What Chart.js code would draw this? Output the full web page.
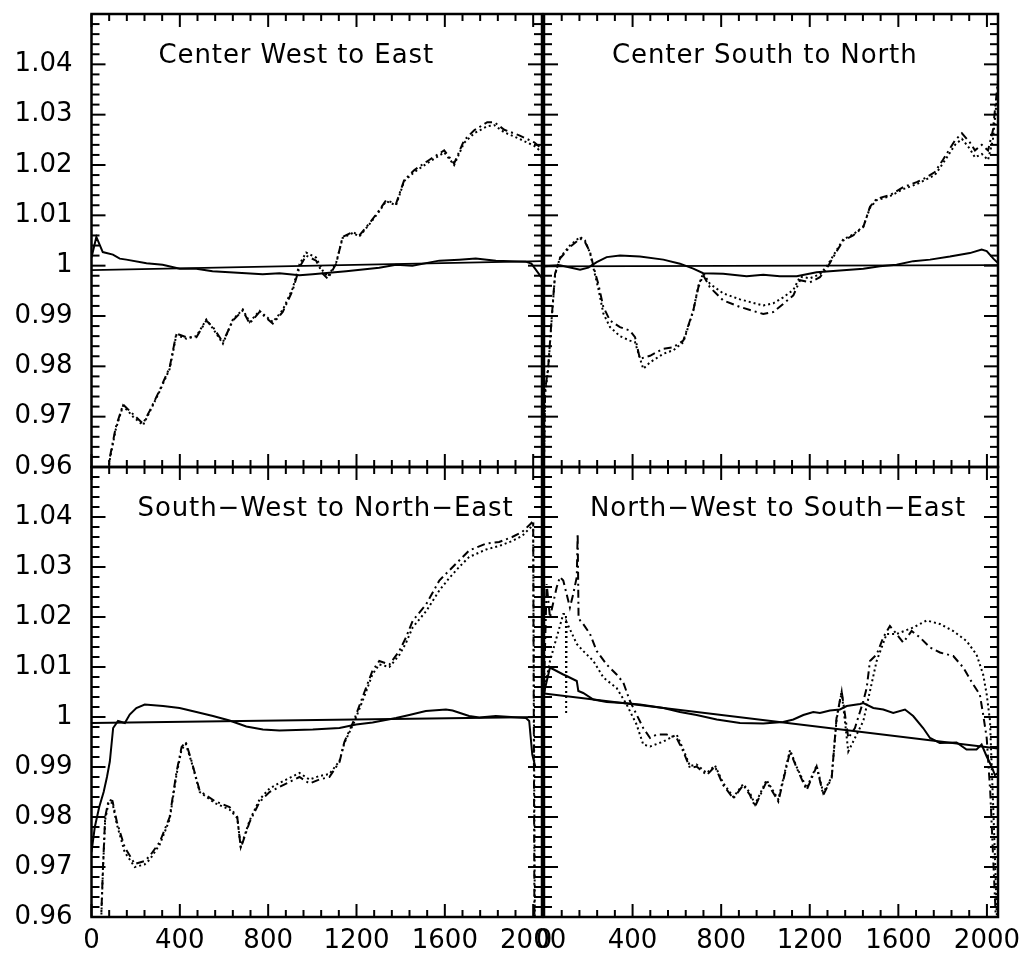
<!DOCTYPE html>
<html>
<head>
<meta charset="utf-8">
<script src="https://cdn.jsdelivr.net/npm/chart.js@4"></script>
<style>
  body { margin: 0; background: #fff; }
  #wrap { position: relative; width: 1023px; height: 957px; }
  canvas { position: absolute; left: 0; top: 0; }
</style>
</head>
<body>
<div id="wrap">
  <canvas id="cwe" width="1023" height="957"></canvas>
  <canvas id="csn" width="1023" height="957"></canvas>
  <canvas id="swne" width="1023" height="957"></canvas>
  <canvas id="nwse" width="1023" height="957"></canvas>
</div>
<script>
// Axis ticks
const xMajor = [0, 400, 800, 1200, 1600, 2000];
const xTickLabels = ['0', '400', '800', '1200', '1600', '2000'];
const xMinor = [80, 160, 240, 320, 480, 560, 640, 720, 880, 960, 1040, 1120, 1280, 1360, 1440, 1520, 1680, 1760, 1840, 1920];
const yMajor = [0.96, 0.97, 0.98, 0.99, 1.00, 1.01, 1.02, 1.03, 1.04];
const yTickLabels = ['0.96', '0.97', '0.98', '0.99', '1', '1.01', '1.02', '1.03', '1.04'];
const yMinor = [0.962, 0.964, 0.966, 0.968, 0.972, 0.974, 0.976, 0.978, 0.982, 0.984, 0.986, 0.988,
                0.992, 0.994, 0.996, 0.998, 1.002, 1.004, 1.006, 1.008, 1.012, 1.014, 1.016, 1.018,
                1.022, 1.024, 1.026, 1.028, 1.032, 1.034, 1.036, 1.038, 1.042, 1.044, 1.046, 1.048];

// Center West to East
const cweSolid = [[0,1.0016],[22,1.0057],[51,1.0027],[97,1.0022],[128,1.0014],[158,1.0012],[249,1.0005],[322,1.0002],
  [400,0.9994],[475,0.9994],[548,0.9989],[700,0.9985],[775,0.9983],[851,0.9985],[942,0.9981],[1001,0.9983],[1153,0.9989],
  [1303,0.9996],[1379,1.0002],[1453,1.0000],[1575,1.0010],[1665,1.0012],[1740,1.0014],[1831,1.0010],[1966,1.0008],
  [1992,1.0004],[2040,0.9975]];
const cweFit = [[0,0.9991],[2040,1.0009]];
const cweDash = [[60,0.9550],[83,0.9619],[110,0.9679],[143,0.9724],[188,0.9705],[233,0.9686],[264,0.9712],[308,0.9752],
  [354,0.9798],[384,0.9865],[429,0.9858],[475,0.9858],[520,0.9891],[550,0.9878],[595,0.9848],[640,0.9891],[685,0.9911],
  [716,0.9885],[761,0.9908],[821,0.9885],[866,0.9908],[911,0.9951],[942,0.9997],[972,1.0020],[1017,1.0010],[1047,0.9984],
  [1070,0.9974],[1108,1.0004],[1137,1.0057],[1183,1.0067],[1213,1.0060],[1258,1.0084],[1303,1.0110],[1334,1.0130],
  [1379,1.0123],[1416,1.0170],[1462,1.0190],[1529,1.0210],[1597,1.0229],[1642,1.0203],[1687,1.0249],[1733,1.0269],
  [1792,1.0285],[1824,1.0285],[1869,1.0270],[1937,1.0259],[2005,1.0245],[2040,1.0232]];
const cweDot = [[60,0.9545],[83,0.9615],[110,0.9675],[143,0.9722],[188,0.9700],[233,0.9683],[264,0.9710],[308,0.9750],
  [354,0.9795],[384,0.9862],[429,0.9855],[475,0.9860],[520,0.9893],[550,0.9875],[595,0.9845],[640,0.9893],[685,0.9913],
  [716,0.9888],[761,0.9910],[821,0.9888],[866,0.9912],[911,0.9955],[942,1.0003],[972,1.0026],[1017,1.0016],[1047,0.9990],
  [1070,0.9978],[1108,1.0006],[1137,1.0055],[1183,1.0065],[1213,1.0058],[1258,1.0082],[1303,1.0108],[1334,1.0128],
  [1379,1.0120],[1416,1.0168],[1462,1.0186],[1529,1.0206],[1597,1.0225],[1642,1.0200],[1687,1.0244],[1733,1.0263],
  [1792,1.0277],[1824,1.0279],[1869,1.0265],[1937,1.0252],[2005,1.0238],[2040,1.0225]];

// Center South to North
const csnSolid = [[0,1.0000],[5,0.9999],[72,1.0001],[163,0.9992],[200,0.9996],[238,1.0007],[283,1.0017],[343,1.0020],
  [433,1.0018],[539,1.0012],[614,1.0004],[674,0.9994],[719,0.9985],[809,0.9984],[915,0.9979],[990,0.9982],[1065,0.9979],
  [1141,0.9979],[1231,0.9987],[1291,0.9989],[1442,0.9994],[1517,0.9999],[1592,1.0002],[1667,1.0009],[1743,1.0012],
  [1833,1.0018],[1923,1.0025],[1976,1.0032],[1999,1.0029],[2029,1.0014],[2050,1.0005]];
const csnFit = [[0,0.99985],[2050,1.0001]];
const csnDash = [[0,0.9620],[5,0.9752],[19,0.9798],[35,0.9898],[50,0.9984],[72,1.0014],[117,1.0037],[163,1.0054],
  [185,1.0047],[208,1.0027],[226,0.9994],[245,0.9964],[268,0.9918],[298,0.9891],[343,0.9878],[388,0.9871],[411,0.9858],
  [433,0.9815],[479,0.9821],[539,0.9835],[584,0.9838],[629,0.9851],[674,0.9911],[697,0.9957],[719,0.9981],[749,0.9957],
  [809,0.9931],[885,0.9918],[990,0.9904],[1035,0.9908],[1080,0.9924],[1126,0.9941],[1156,0.9971],[1201,0.9967],
  [1246,0.9977],[1276,0.9994],[1306,1.0017],[1351,1.0050],[1396,1.0060],[1442,1.0077],[1472,1.0117],[1502,1.0133],
  [1562,1.0140],[1622,1.0156],[1683,1.0166],[1720,1.0174],[1765,1.0186],[1801,1.0210],[1856,1.0249],[1887,1.0263],
  [1923,1.0245],[1946,1.0229],[1977,1.0240],[2005,1.0229],[2027,1.0269],[2050,1.0369]];
const csnDot = [[0,0.9610],[5,0.9745],[19,0.9795],[35,0.9895],[50,0.9982],[72,1.0016],[117,1.0040],[163,1.0057],
  [185,1.0050],[208,1.0025],[226,0.9990],[245,0.9955],[268,0.9905],[298,0.9878],[343,0.9860],[388,0.9851],[411,0.9848],
  [448,0.9795],[479,0.9808],[539,0.9825],[584,0.9832],[629,0.9848],[674,0.9910],[697,0.9960],[719,0.9985],[749,0.9964],
  [809,0.9945],[885,0.9933],[990,0.9921],[1035,0.9925],[1080,0.9937],[1126,0.9952],[1156,0.9978],[1201,0.9975],
  [1246,0.9983],[1276,0.9998],[1306,1.0020],[1351,1.0052],[1396,1.0062],[1442,1.0078],[1472,1.0115],[1502,1.0130],
  [1562,1.0138],[1622,1.0152],[1683,1.0162],[1720,1.0170],[1765,1.0180],[1801,1.0203],[1856,1.0240],[1887,1.0252],
  [1923,1.0232],[1946,1.0215],[1977,1.0222],[2005,1.0210],[2027,1.0250],[2050,1.0355]];

// South-West to North-East
const swneSolid = [[0,0.9730],[15,0.9780],[35,0.9820],[55,0.9850],[70,0.9880],[83,0.9911],[98,0.9978],[120,0.9992],
  [151,0.9988],[173,1.0005],[203,1.0018],[241,1.0025],[324,1.0022],[399,1.0018],[475,1.0010],[550,1.0002],[625,0.9993],
  [701,0.9981],[776,0.9975],[851,0.9973],[1002,0.9975],[1123,0.9978],[1198,0.9985],[1273,0.9989],[1379,0.9998],
  [1439,1.0004],[1514,1.0012],[1605,1.0015],[1635,1.0013],[1710,1.0002],[1756,0.9999],[1831,1.0002],[1967,0.9998],
  [1982,0.9992],[1996,0.9925],[2010,0.9900]];
const swneFit = [[0,0.9988],[2040,1.0000]];
const swneDash = [[40,0.9550],[52,0.9700],[62,0.9800],[78,0.9835],[95,0.9832],[115,0.9790],[150,0.9740],[196,0.9706],
  [240,0.9712],[264,0.9722],[309,0.9750],[354,0.9800],[385,0.9890],[408,0.9940],[427,0.9950],[453,0.9912],[490,0.9852],
  [558,0.9832],[625,0.9820],[660,0.9800],[676,0.9738],[716,0.9790],[761,0.9830],[806,0.9850],[851,0.9860],[896,0.9870],
  [942,0.9880],[987,0.9867],[1032,0.9875],[1077,0.9880],[1123,0.9910],[1145,0.9950],[1190,0.9995],[1236,1.0050],
  [1272,1.0092],[1303,1.0112],[1349,1.0105],[1394,1.0132],[1424,1.0159],[1454,1.0192],[1516,1.0226],[1575,1.0273],
  [1620,1.0293],[1665,1.0313],[1710,1.0333],[1787,1.0347],[1846,1.0350],[1905,1.0360],[1950,1.0370],[1990,1.0387],
  [2000,1.0393],[2006,0.9550]];
const swneDot = [[40,0.9545],[52,0.9695],[62,0.9795],[78,0.9830],[95,0.9828],[115,0.9785],[150,0.9730],[196,0.9700],
  [240,0.9705],[264,0.9715],[309,0.9745],[354,0.9795],[385,0.9885],[408,0.9935],[427,0.9946],[453,0.9910],[490,0.9850],
  [558,0.9828],[625,0.9815],[660,0.9798],[676,0.9740],[716,0.9793],[761,0.9835],[806,0.9857],[851,0.9868],[896,0.9878],
  [942,0.9888],[987,0.9875],[1032,0.9882],[1077,0.9886],[1123,0.9912],[1145,0.9948],[1190,0.9990],[1236,1.0042],
  [1272,1.0085],[1303,1.0105],[1349,1.0100],[1394,1.0124],[1424,1.0148],[1454,1.0179],[1516,1.0212],[1575,1.0253],
  [1620,1.0278],[1665,1.0300],[1710,1.0320],[1787,1.0335],[1846,1.0342],[1905,1.0352],[1950,1.0362],[1990,1.0380],
  [2000,1.0385],[2008,0.9550]];

// North-West to South-East
const nwseSolid = [[0,1.0045],[5,1.0058],[27,1.0099],[87,1.0085],[102,1.0082],[148,1.0072],[155,1.0052],[177,1.0048],
  [223,1.0035],[283,1.0030],[358,1.0028],[433,1.0025],[539,1.0018],[614,1.0010],[689,1.0004],[780,0.9995],[885,0.9988],
  [990,0.9987],[1080,0.9990],[1126,0.9995],[1171,1.0004],[1216,1.0010],[1246,1.0008],[1291,1.0013],[1336,1.0015],
  [1367,1.0022],[1427,1.0026],[1442,1.0028],[1487,1.0018],[1532,1.0015],[1577,1.0008],[1630,1.0015],[1667,1.0002],
  [1712,0.9978],[1743,0.9958],[1787,0.9948],[1863,0.9949],[1908,0.9935],[1953,0.9935],[1976,0.9945],[1999,0.9921],
  [2021,0.9901],[2036,0.9884],[2050,0.9888]];
const nwseFit = [[0,1.0047],[2050,0.9937]];
const nwseDash = [[0,1.0060],[12,1.0266],[27,1.0199],[57,1.0259],[72,1.0280],[87,1.0273],[102,1.0246],[117,1.0219],
  [132,1.0246],[148,1.0280],[152,1.0367],[156,1.0200],[163,1.0193],[177,1.0186],[208,1.0166],[238,1.0132],[283,1.0105],
  [328,1.0085],[358,1.0069],[388,1.0032],[418,1.0005],[448,0.9978],[479,0.9958],[509,0.9965],[554,0.9965],[599,0.9958],
  [629,0.9931],[659,0.9898],[689,0.9901],[735,0.9884],[772,0.9901],[809,0.9864],[855,0.9837],[900,0.9864],[930,0.9844],
  [953,0.9821],[1005,0.9871],[1058,0.9831],[1111,0.9931],[1141,0.9898],[1186,0.9854],[1231,0.9901],[1261,0.9844],
  [1299,0.9878],[1321,0.9998],[1344,1.0052],[1359,1.0005],[1374,0.9958],[1404,0.9978],[1442,1.0032],[1457,1.0058],
  [1472,1.0112],[1502,1.0125],[1532,1.0159],[1562,1.0182],[1592,1.0166],[1622,1.0149],[1660,1.0172],[1698,1.0159],
  [1743,1.0139],[1788,1.0129],[1848,1.0122],[1893,1.0099],[1938,1.0065],[1968,1.0045],[1983,1.0005],[1999,0.9958],
  [2015,0.9850],[2030,0.9700],[2045,0.9550]];
const nwseDot = [[0,1.0050],[27,1.0112],[87,1.0206],[99,1.0206],[100,1.0005],[102,1.0190],[148,1.0146],[177,1.0132],
  [223,1.0112],[268,1.0079],[328,1.0058],[373,1.0025],[418,0.9985],[448,0.9945],[479,0.9941],[539,0.9951],[599,0.9965],
  [629,0.9935],[659,0.9902],[689,0.9905],[735,0.9888],[772,0.9903],[809,0.9868],[855,0.9840],[900,0.9866],[930,0.9848],
  [953,0.9825],[1005,0.9874],[1058,0.9835],[1111,0.9934],[1141,0.9900],[1186,0.9858],[1231,0.9903],[1261,0.9848],
  [1299,0.9880],[1321,0.9995],[1344,1.0050],[1374,0.9931],[1404,0.9958],[1442,0.9992],[1502,1.0112],[1547,1.0166],
  [1592,1.0166],[1667,1.0179],[1728,1.0193],[1788,1.0186],[1848,1.0172],[1908,1.0152],[1953,1.0125],[1983,1.0085],
  [1999,1.0045],[2014,0.9992],[2030,0.9800],[2045,0.9600]];

const FONT = '"DejaVu Sans", sans-serif';
Chart.defaults.font.family = FONT;
Chart.defaults.color = '#000';

const pts = arr => arr.map(([x, y]) => ({ x, y }));

// frame, inward ticks on all four sides, and the panel title
const panelFrame = {
  id: 'panelFrame',
  afterDraw(chart, args, o) {
    const { ctx, chartArea: a, scales: { x, y } } = chart;
    const line = (x1, y1, x2, y2) => { ctx.beginPath(); ctx.moveTo(x1, y1); ctx.lineTo(x2, y2); ctx.stroke(); };
    ctx.save();
    ctx.strokeStyle = '#000';
    ctx.lineWidth = 2;
    xMajor.concat(xMinor).forEach(v => {
      const len = xMajor.includes(v) ? 13 : 7;
      const px = x.getPixelForValue(v);
      line(px, a.bottom, px, a.bottom - len);
      line(px, a.top, px, a.top + len);
    });
    yMajor.concat(yMinor).forEach(v => {
      const len = yMajor.includes(v) ? 14 : 8;
      const py = y.getPixelForValue(v);
      line(a.left, py, a.left + len, py);
      line(a.right, py, a.right - len, py);
    });
    ctx.lineWidth = 2.5;
    ctx.strokeRect(a.left, a.top, a.right - a.left, a.bottom - a.top);
    ctx.fillStyle = '#000';
    ctx.font = '26px ' + FONT;
    ctx.letterSpacing = '0.9px';
    ctx.textBaseline = 'middle';
    ctx.textAlign = 'left';
    ctx.fillText(o.title, a.left + o.dx, a.top + 42);
    ctx.restore();
  }
};

function makePanel(id, p) {
  const ds = (data, width, dash) => ({
    data: pts(data), borderColor: '#000', borderWidth: width, borderDash: dash,
    pointRadius: 0, tension: 0, fill: false
  });
  return new Chart(document.getElementById(id), {
    type: 'line',
    data: {
      datasets: [
        ds(p.fit, 1.8, []),
        ds(p.solid, 2, []),
        ds(p.dash, 2, [8, 4, 2, 4]),
        ds(p.dot, 2, [2, 3])
      ]
    },
    options: {
      responsive: false,
      animation: false,
      events: [],
      layout: { padding: p.padding },
      plugins: {
        legend: { display: false },
        tooltip: { enabled: false },
        panelFrame: { title: p.title, dx: p.dx }
      },
      scales: {
        x: {
          type: 'linear', min: 0, max: p.xmax, display: p.showX,
          grid: { display: false, drawTicks: false }, border: { display: false },
          afterBuildTicks: s => { s.ticks = xMajor.map(v => ({ value: v })); },
          afterFit: s => {
            s.height = p.showX ? 40 : 0;
            s.paddingLeft = 0; s.paddingRight = 0;
          },
          ticks: { callback: (v, i) => xTickLabels[i], padding: 9, maxRotation: 0, autoSkip: false,
                   font: { size: 26 }, color: '#000' }
        },
        y: {
          type: 'linear', min: 0.96, max: 1.05, display: p.showY,
          grid: { display: false, drawTicks: false }, border: { display: false },
          afterBuildTicks: s => { s.ticks = yMajor.map(v => ({ value: v })); },
          afterFit: s => {
            s.width = p.showY ? 91.5 : 0;
            s.paddingTop = 0; s.paddingBottom = 0;
          },
          ticks: { callback: (v, i) => yTickLabels[i], padding: 19, autoSkip: false,
                   font: { size: 26 }, color: '#000' }
        }
      }
    },
    plugins: [panelFrame]
  });
}

makePanel('cwe', { title: 'Center West to East', dx: 67, solid: cweSolid, fit: cweFit, dash: cweDash, dot: cweDot,
  xmax: 2040, showX: false, showY: true, padding: { left: 0, right: 481, top: 14, bottom: 490 } });
makePanel('csn', { title: 'Center South to North', dx: 68, solid: csnSolid, fit: csnFit, dash: csnDash, dot: csnDot,
  xmax: 2050, showX: false, showY: false, padding: { left: 544, right: 25, top: 14, bottom: 490 } });
makePanel('swne', { title: 'South\u2212West to North\u2212East', dx: 46, solid: swneSolid, fit: swneFit, dash: swneDash, dot: swneDot,
  xmax: 2040, showX: true, showY: true, padding: { left: 0, right: 481, top: 467, bottom: 0 } });
makePanel('nwse', { title: 'North\u2212West to South\u2212East', dx: 46, solid: nwseSolid, fit: nwseFit, dash: nwseDash, dot: nwseDot,
  xmax: 2050, showX: true, showY: false, padding: { left: 544, right: 25, top: 467, bottom: 0 } });
</script>
</body>
</html>
